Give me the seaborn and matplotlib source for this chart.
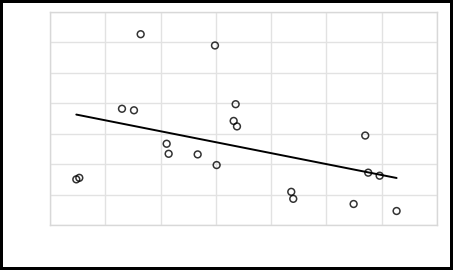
import matplotlib
matplotlib.use("Agg")
import matplotlib.pyplot as plt
import seaborn as sns
import pandas as pd

x_values = [0.476, 0.530, 1.302, 1.519, 1.640, 2.110, 2.146, 2.671, 2.984, 3.014,
            3.358, 3.322, 3.382, 4.364, 4.400, 5.492, 5.702, 5.756, 5.962, 6.269]
y_values = [1.50, 1.55, 3.82, 3.77, 6.27, 2.67, 2.34, 2.32, 5.90, 1.97,
            3.97, 3.42, 3.24, 1.09, 0.86, 0.69, 2.94, 1.72, 1.62, 0.46]

df = pd.DataFrame({"x": x_values, "y": y_values})

sns.set_style("whitegrid")
fig = plt.figure(figsize=(4.53, 2.70), dpi=100)
ax = fig.add_axes([50 / 453, 45 / 270, 387 / 453, 213 / 270])

sns.regplot(data=df, x="x", y="y", ax=ax, ci=None, truncate=True,
            scatter_kws=dict(s=24, facecolors="none", edgecolors="black", linewidths=1.1),
            line_kws=dict(color="black", linewidth=1.4))

ax.set_xlim(0, 7)
ax.set_ylim(0, 7)
ax.set_xticks(range(0, 8))
ax.set_yticks(range(0, 8))
ax.set_xticklabels([])
ax.set_yticklabels([])
ax.set_xlabel("")
ax.set_ylabel("")
ax.grid(True, color="#e2e2e2", linewidth=1)
for s in ax.spines.values():
    s.set_color("#d8d8d8")
    s.set_linewidth(1)
ax.tick_params(length=0)

fig.patch.set_edgecolor("black")
fig.patch.set_linewidth(3)
fig.savefig("out.png", dpi=100, edgecolor="black")
